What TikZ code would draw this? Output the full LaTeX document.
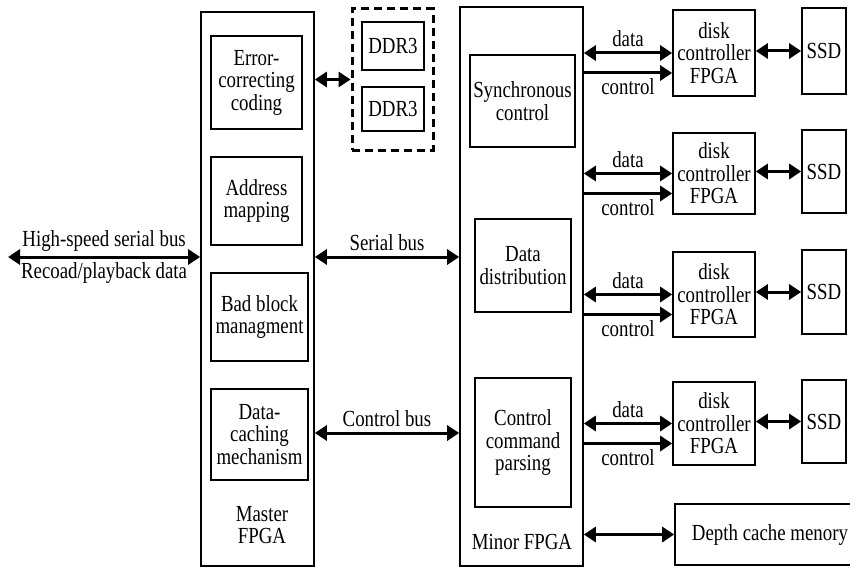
\documentclass[tikz,border=0pt]{standalone}
\usepackage{fontspec}
\setmainfont{Liberation Serif}[FakeStretch=0.82]
\usepackage{tikz}
\usetikzlibrary{arrows.meta}

\tikzset{
  blk/.style={draw, line width=1.6pt, align=center, inner sep=0pt},
  biarrow/.style={line width=3pt, {Triangle[length=12pt,width=15pt]}-{Triangle[length=12pt,width=15pt]}},
  onearrow/.style={line width=3pt, -{Triangle[length=12pt,width=15pt]}},
  every node/.style={font=\fontsize{23}{22.5}\selectfont}
}

\begin{document}
\begin{tikzpicture}[x=1pt, y=-1pt]
\clip (0,0) rectangle (850,567);
\fill[white] (0,0) rectangle (850,567);

% master side
\node[blk, minimum width=113pt, minimum height=554pt] (master) at (257.5,289) {};
\node[blk, minimum width=91pt, minimum height=93pt] (ecc) at (256.5,82.5) {Error-\\correcting\\coding};
\node[blk, minimum width=91pt, minimum height=88pt] (addr) at (256.5,201) {Address\\mapping};
\node[blk, minimum width=97pt, minimum height=88pt] (bad) at (259.5,317) {Bad block\\managment};
\node[blk, minimum width=97pt, minimum height=91pt] (cache) at (259.5,434.5) {Data-\\caching\\mechanism};
\node[align=center] (mastername) at (262,525) {Master\\FPGA};

\node[draw, line width=3pt, dash pattern=on 8pt off 5pt, minimum width=81pt, minimum height=141pt] (ddr) at (392.5,79.5) {};
\node[blk, minimum width=62pt, minimum height=48pt] (ddra) at (393,46) {DDR3};
\node[blk, minimum width=62pt, minimum height=44pt] (ddrb) at (393,109) {DDR3};

% minor side
\node[blk, minimum width=123pt, minimum height=559pt] (minor) at (521.5,286.5) {};
\node[blk, minimum width=105pt, minimum height=92pt] (sync) at (522.5,101) {Synchronous\\control};
\node[blk, minimum width=96pt, minimum height=93pt] (dist) at (523,265.5) {Data\\distribution};
\node[blk, minimum width=96pt, minimum height=129pt] (parse) at (523,442.5) {Control\\command\\parsing};
\node (minorname) at (522,542) {Minor FPGA};

\node[blk, minimum width=82pt, minimum height=86pt] (diska) at (714,53) {disk\\controller\\FPGA};
\node[blk, minimum width=82pt, minimum height=81pt] (diskb) at (714,173.5) {disk\\controller\\FPGA};
\node[blk, minimum width=82pt, minimum height=85pt] (diskc) at (714,294.5) {disk\\controller\\FPGA};
\node[blk, minimum width=82pt, minimum height=83pt] (diskd) at (714,423.5) {disk\\controller\\FPGA};

\node[blk, minimum width=44pt, minimum height=86pt] (ssda) at (824,51) {SSD};
\node[blk, minimum width=44pt, minimum height=83pt] (ssdb) at (824,171.5) {SSD};
\node[blk, minimum width=44pt, minimum height=84pt] (ssdc) at (824,292) {SSD};
\node[blk, minimum width=44pt, minimum height=83pt] (ssdd) at (824,421.5) {SSD};

\node[blk, minimum width=190pt, minimum height=61pt] (depth) at (770,534.5) {Depth cache menory};

% buses
\coordinate (hostend) at (8,257);
\draw[biarrow] (hostend) -- node[above=1pt] {High-speed serial bus} node[below=1pt] {Recoad/playback data} (hostend -| master.west);
\draw[biarrow] (master.east |- hostend) -- node[above=1pt] {Serial bus} (minor.west |- hostend);
\draw[biarrow] (master.east |- 0,433) -- node[above=1pt] {Control bus} (minor.west |- 0,433);
\draw[biarrow] (master.east |- ddr.west) -- (ddr.west);

\foreach \d/\s in {diska/ssda, diskb/ssdb, diskc/ssdc, diskd/ssdd} {
  \draw[biarrow] (minor.east |- \d.west) -- node[above=1pt] {data} (\d.west);
  \draw[onearrow] ([yshift=-20pt]minor.east |- \d.west) -- node[below=1pt] {control} ([yshift=-20pt]\d.west);
  \draw[biarrow] (\d.east |- \s.west) -- (\s.west);
}
\draw[biarrow] (minor.east |- depth.west) -- (depth.west);
\end{tikzpicture}
\end{document}
